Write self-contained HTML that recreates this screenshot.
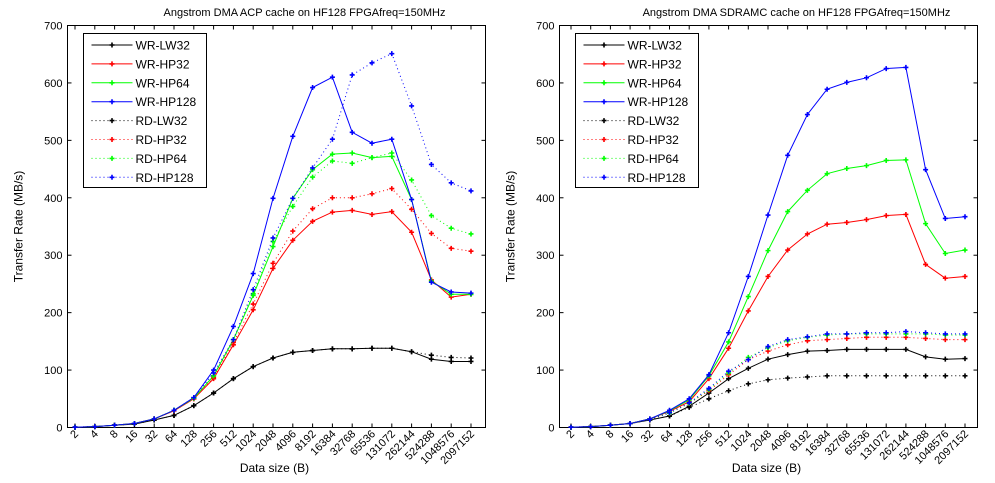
<!DOCTYPE html>
<html><head><meta charset="utf-8"><style>
body{margin:0;background:#fff;width:995px;height:478px;overflow:hidden}
svg{font-family:"Liberation Sans",Arial,sans-serif;font-size:11px}
</style></head><body>
<svg id="chart" width="995" height="478" xmlns="http://www.w3.org/2000/svg"></svg>
<script>
const categories = ["2","4","8","16","32","64","128","256","512","1024","2048","4096","8192","16384","32768","65536","131072","262144","524288","1048576","2097152"];
const yTicks = [0,100,200,300,400,500,600,700];
const seriesNames = ["WR-LW32","WR-HP32","WR-HP64","WR-HP128","RD-LW32","RD-HP32","RD-HP64","RD-HP128"];
const leftTitle = "Angstrom DMA ACP cache on HF128 FPGAfreq=150MHz";
const rightTitle = "Angstrom DMA SDRAMC cache on HF128 FPGAfreq=150MHz";
// Left chart (ACP)
const acpWrLw32 = [0.5,1.5,4,6,13,21,38,60,85,106,121,131,134,137,137,138,138,132,119,115,115];
const acpWrHp32 = [0.5,1.5,4,7,15,29,50,85,144,205,277,326,359,375,378,371,376,340,257,227,232];
const acpWrHp64 = [0.5,1.5,4,7,15,30,51,90,153,230,315,399,449,476,478,470,472,397,255,232,232];
const acpWrHp128 = [0.5,1.5,4,7,15,30,52,100,176,268,399,507,592,610,514,495,502,397,253,236,234];
const acpRdLw32 = [0.5,1.5,4,6,13,21,38,60,85,106,121,131,134,137,137,138,138,132,126,122,121];
const acpRdHp32 = [0.5,1.5,4,7,15,29,50,87,148,215,286,342,381,400,400,407,416,380,338,312,307];
const acpRdHp64 = [0.5,1.5,4,7,15,30,51,90,153,233,324,385,436,464,460,470,478,431,369,347,337];
const acpRdHp128 = [0.5,1.5,4,7,15,30,52,95,153,240,330,399,452,502,614,635,651,560,458,426,412];
// Right chart (SDRAMC)
const sdWrLw32 = [0.5,1.5,4,7,13,20,37,60,85,103,119,127,133,134,136,136,136,136,123,119,120];
const sdWrHp32 = [0.5,1.5,4,7,15,28,45,85,138,203,263,309,337,354,357,362,369,371,284,260,263];
const sdWrHp64 = [0.5,1.5,4,7,15,29,48,90,149,228,308,376,413,442,451,456,465,466,355,303,309];
const sdWrHp128 = [0.5,1.5,4,7,15,30,50,92,165,263,370,474,545,589,601,609,625,627,449,364,367];
const sdRdLw32 = [0.5,1.5,4,7,13,20,35,50,64,76,83,86,88,90,90,90,90,90,90,90,90];
const sdRdHp32 = [0.5,1.5,4,7,14,25,42,64,92,118,133,144,151,153,155,157,157,157,155,153,153];
const sdRdHp64 = [0.5,1.5,4,7,14,25,42,66,95,122,139,151,157,161,163,163,163,163,163,161,161];
const sdRdHp128 = [0.5,1.5,4,7,14,26,43,68,98,118,141,153,158,163,163,165,165,167,165,163,163];

const colors = ["#000","#f00","#0f0","#00f","#000","#f00","#0f0","#00f"];
const NS = "http://www.w3.org/2000/svg";
const svg = document.getElementById('chart');
function mk(tag, attrs, parent){const e=document.createElementNS(NS,tag);for(const k in attrs)e.setAttribute(k,attrs[k]);(parent||svg).appendChild(e);return e;}

function drawPanel(prefix, x0, x1, firstX, lastX, title, data, legendX){
  const y0=427.5, yTop=25.5;
  const xs = i => firstX + i*(lastX-firstX)/(categories.length-1);
  const ys = v => y0 - v*(y0-yTop)/700;
  const g = mk('g',{});
  
  
  const box = mk('rect',{x:x0,y:yTop,width:x1-x0,height:y0-yTop,fill:'#fff',stroke:'#000','stroke-width':1},g);
  
  
  yTicks.forEach(t=>{
    const y=ys(t);
    mk('line',{x1:x0,x2:x0+4,y1:y,y2:y,stroke:'#000'},g);
    mk('line',{x1:x1,x2:x1-4,y1:y,y2:y,stroke:'#000'},g);
    const tx=mk('text',{x:x0-5,y:y+4,'text-anchor':'end'},g);
    tx.textContent=t;
    
    
  });
  categories.forEach((c,i)=>{
    const x=xs(i);
    mk('line',{x1:x,x2:x,y1:y0,y2:y0-4,stroke:'#000'},g);
    mk('line',{x1:x,x2:x,y1:yTop,y2:yTop+4,stroke:'#000'},g);
    const tx=mk('text',{x:x+4,y:y0+7,'text-anchor':'end',transform:`rotate(-45 ${x+4} ${y0+7})`},g);
    tx.textContent=c;
    
    
  });
  const tt=mk('text',{x:(x0+x1)/2+28,y:16,'text-anchor':'middle'},g);
  tt.textContent=title;
  
  
  const xl=mk('text',{x:(x0+x1)/2-2,y:472,'text-anchor':'middle','font-size':'12px'},g);
  xl.textContent="Data size (B)";
  
  
  const yl=mk('text',{x:0,y:0,'text-anchor':'middle','font-size':'12px',transform:`translate(${x0-45} ${(y0+yTop)/2}) rotate(-90)`},g);
  yl.textContent="Transfer Rate (MB/s)";
  
  
  data.forEach((arr,si)=>{
    const pts=arr.map((v,i)=>xs(i).toFixed(1)+','+ys(v).toFixed(1)).join(' ');
    const pl=mk('polyline',{points:pts,fill:'none',stroke:colors[si],'stroke-width':1,'stroke-dasharray':si>=4?'1 3':'none'},g);
    
    
    arr.forEach((v,i)=>{
      const m=mk('path',{d:`M${xs(i)-2.5},${ys(v)}h5M${xs(i)},${ys(v)-2.5}v5`,stroke:colors[si],'stroke-width':1.6},g);
      
      
    });
  });
  const lg=mk('g',{},g);
  
  
  mk('rect',{x:legendX,y:33.5,width:123,height:154,fill:'#fff',stroke:'#000'},lg);
  seriesNames.forEach((n,si)=>{
    const y=45+si*18.9;
    const e=mk('g',{},lg);
    
    
    mk('line',{x1:legendX+8,x2:legendX+49,y1:y,y2:y,stroke:colors[si],'stroke-dasharray':si>=4?'1 3':'none'},e);
    mk('path',{d:`M${legendX+26},${y}h5M${legendX+28.5},${y-2.5}v5`,stroke:colors[si],'stroke-width':1.6},e);
    const t=mk('text',{x:legendX+52,y:y+4.5,'font-size':'12px'},e);
    t.textContent=n;
  });
}
drawPanel('acp',67.5,485.5,75,471,leftTitle,[acpWrLw32,acpWrHp32,acpWrHp64,acpWrHp128,acpRdLw32,acpRdHp32,acpRdHp64,acpRdHp128],83.5);
drawPanel('sdramc',559.5,977.5,571,965,rightTitle,[sdWrLw32,sdWrHp32,sdWrHp64,sdWrHp128,sdRdLw32,sdRdHp32,sdRdHp64,sdRdHp128],575.5);
</script>
</body></html>
